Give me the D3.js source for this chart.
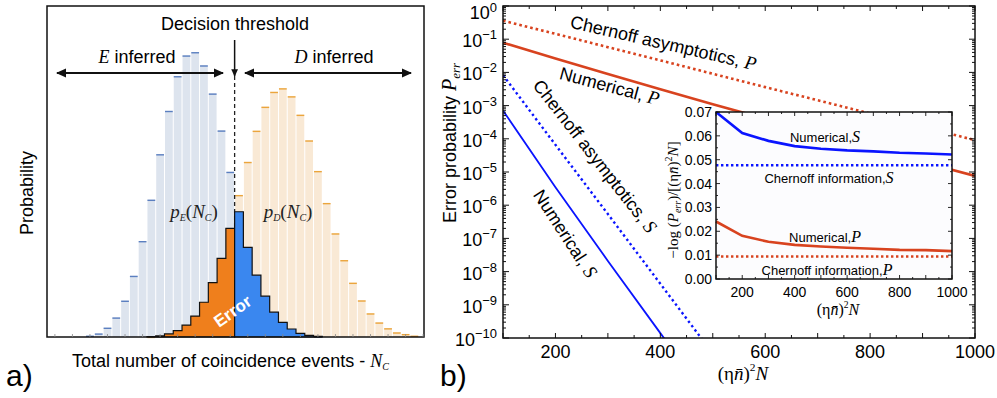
<!DOCTYPE html>
<html>
<head>
<meta charset="utf-8">
<script src="https://cdn.jsdelivr.net/npm/d3@7"></script>
<style>
  body { margin: 0; background: #fff; }
  svg { display: block; font-family: "Liberation Sans", Arial, sans-serif; }
  .serif { font-family: "Liberation Serif", "DejaVu Serif", serif; }
</style>
</head>
<body>
<svg id="chart" width="997" height="398"></svg>
<script>
// ---------- panel a) : histograms ----------
var nc = [5, 6, 7, 8, 9, 10, 11, 12, 13, 14, 15, 16, 17, 18, 19, 20, 21, 22, 23, 24,
          25, 26, 27, 28, 29, 30, 31, 32, 33, 34, 35, 36, 37, 38, 39, 40, 41, 42];
var pE = [0.0005, 0.0013, 0.0034, 0.0071, 0.0132, 0.0222, 0.0348, 0.0498, 0.0663, 0.0820,
          0.0946, 0.1021, 0.1033, 0.0985, 0.0883, 0.0749, 0.0599, 0.0454, 0.0325, 0.0224,
          0.0148, 0.0090, 0.0053, 0.0029, 0.0013, 0.0006, 0.0002, 0, 0, 0,
          0, 0, 0, 0, 0, 0, 0, 0];
var pD = [0, 0, 0, 0, 0, 0, 0, 0.0001, 0.0004, 0.0011,
          0.0023, 0.0043, 0.0076, 0.0126, 0.0197, 0.0285, 0.0394, 0.0515, 0.0635, 0.0748,
          0.0835, 0.0889, 0.0902, 0.0873, 0.0806, 0.0713, 0.0602, 0.0486, 0.0376, 0.0279,
          0.0197, 0.0133, 0.0086, 0.0053, 0.0032, 0.0017, 0.0011, 0.0005];
var threshold = 21.5;
var minorTicksA = [1, 3, 5, 7, 9, 11, 13, 15, 17, 19, 21, 23, 25, 27, 29, 31, 33, 35, 37, 39, 41, 43];

// ---------- panel b) : error probabilities ----------
var nMain = [100, 200, 300, 400, 500, 600, 700, 800, 900, 1000];
var numP = [7.85e-2, 2.63e-2, 8.9e-3, 3.1e-3, 1.1e-3, 4.0e-4, 1.45e-4, 5.4e-5, 2.0e-5, 7.6e-6];
var cherP = [3.6e-1, 1.45e-1, 5.75e-2, 2.3e-2, 9.1e-3, 3.6e-3, 1.45e-3, 5.75e-4, 2.3e-4, 9.1e-5];
var nS = [100, 200, 300, 400, 500];
var numS = [7.1e-4, 3.5e-6, 2.1e-8, 1.4e-10, 1e-12];
var cherS = [8.3e-3, 6.6e-5, 5.4e-7, 4.3e-9, 3.4e-11];
var mainXTicks = [200, 400, 600, 800, 1000];
var mainYExp = [0, -1, -2, -3, -4, -5, -6, -7, -8, -9, -10];

// inset
var insetN = [100, 200, 300, 400, 500, 600, 700, 800, 900, 1000];
var insetNumS = [0.0700, 0.0612, 0.0579, 0.0557, 0.0546, 0.0539, 0.0535, 0.0529, 0.0526, 0.0522];
var insetNumP = [0.0241, 0.0181, 0.0156, 0.0143, 0.0136, 0.0131, 0.0127, 0.0122, 0.0121, 0.0117];
var insetCherS = 0.0477;
var insetCherP = 0.0094;
var insetXTicks = [200, 400, 600, 800, 1000];
var insetYTicks = [0, 0.01, 0.02, 0.03, 0.04, 0.05, 0.06, 0.07];

var red = "#d8431f", blue = "#0a14ff";
var svg = d3.select("#chart");

///////////////// panel a
var xA = d3.scaleLinear().domain([0.1, 43.1]).range([47, 424]);
var yA = d3.scaleLinear().domain([0, 0.12]).range([337, 6]);
var gA = svg.append("g");

function drawBars(vals, fill, topColor) {
    var rows = nc.map(function (n, i) { return { n: n, v: vals[i] }; }).filter(function (d) { return d.v > 0; });
    gA.selectAll(null).data(rows).enter().append("rect")
        .attr("x", function (d) { return xA(d.n - 0.5) + 0.5; })
        .attr("width", function (d) { return xA(d.n + 0.5) - xA(d.n - 0.5) - 1; })
        .attr("y", function (d) { return yA(d.v); })
        .attr("height", function (d) { return yA(0) - yA(d.v); })
        .attr("fill", fill);
    gA.selectAll(null).data(rows).enter().append("line")
        .attr("x1", function (d) { return xA(d.n - 0.5) + 0.5; })
        .attr("x2", function (d) { return xA(d.n + 0.5) - 0.5; })
        .attr("y1", function (d) { return yA(d.v) + 0.7; })
        .attr("y2", function (d) { return yA(d.v) + 0.7; })
        .attr("stroke", topColor).attr("stroke-width", 1.4);
}
drawBars(pE, "#dde4ee", "#5b7fc0");
drawBars(pD, "#f9e9d5", "#eba53c");

// decision threshold dashed line
gA.append("line")
    .attr("x1", xA(threshold)).attr("x2", xA(threshold))
    .attr("y1", 76).attr("y2", yA(0))
    .attr("stroke", "#222").attr("stroke-width", 1.3).attr("stroke-dasharray", "4,3");

// error regions as step areas
function stepPoints(vals, test) {
    var pts = [];
    nc.forEach(function (n, i) {
        if (test(n) && vals[i] > 0) {
            pts.push([n - 0.5, vals[i]]);
            pts.push([n + 0.5, vals[i]]);
        }
    });
    return pts;
}
var area = d3.area()
    .x(function (d) { return xA(d[0]); })
    .y0(yA(0))
    .y1(function (d) { return yA(d[1]); });
var errD = stepPoints(pD, function (n) { return n < threshold; });
var errE = stepPoints(pE, function (n) { return n > threshold; });
gA.append("path").attr("d", area(errD)).attr("fill", "#ef7f1c").attr("stroke", "#111").attr("stroke-width", 1.2);
gA.append("path").attr("d", area(errE)).attr("fill", "#3a87ef").attr("stroke", "#111").attr("stroke-width", 1.2);

// frame
gA.append("rect").attr("x", 47).attr("y", 6).attr("width", 377).attr("height", 331)
    .attr("fill", "none").attr("stroke", "#111").attr("stroke-width", 1.5);
gA.selectAll(null).data(minorTicksA).enter().append("line")
    .attr("x1", function (d) { return xA(d); }).attr("x2", function (d) { return xA(d); })
    .attr("y1", yA(0)).attr("y2", yA(0) - 3)
    .attr("stroke", "#888").attr("stroke-width", 0.8);

// arrows
var defs = svg.append("defs");
defs.append("marker").attr("id", "ah").attr("viewBox", "0 0 10 10")
    .attr("refX", 9).attr("refY", 5).attr("markerWidth", 5).attr("markerHeight", 5)
    .attr("orient", "auto-start-reverse")
    .append("path").attr("d", "M0,0.5 L10,5 L0,9.5 Z").attr("fill", "#111");
gA.append("line").attr("x1", 57).attr("x2", 223).attr("y1", 73).attr("y2", 73)
    .attr("stroke", "#111").attr("stroke-width", 2)
    .attr("marker-start", "url(#ah)").attr("marker-end", "url(#ah)");
gA.append("line").attr("x1", 245).attr("x2", 411).attr("y1", 73).attr("y2", 73)
    .attr("stroke", "#111").attr("stroke-width", 2)
    .attr("marker-start", "url(#ah)").attr("marker-end", "url(#ah)");
gA.append("line").attr("x1", xA(threshold)).attr("x2", xA(threshold)).attr("y1", 40).attr("y2", 76)
    .attr("stroke", "#111").attr("stroke-width", 1.5).attr("marker-end", "url(#ah)");

// texts panel a
gA.append("text").attr("x", 235).attr("y", 30).attr("text-anchor", "middle")
    .attr("font-size", 18).text("Decision threshold");
var tE = gA.append("text").attr("x", 137).attr("y", 63).attr("text-anchor", "middle").attr("font-size", 18);
tE.append("tspan").attr("class", "serif").attr("font-style", "italic").text("E");
tE.append("tspan").text(" inferred");
var tD = gA.append("text").attr("x", 334).attr("y", 63).attr("text-anchor", "middle").attr("font-size", 18);
tD.append("tspan").attr("class", "serif").attr("font-style", "italic").text("D");
tD.append("tspan").text(" inferred");

function pLabel(x, sub) {
    var t = gA.append("text").attr("class", "serif").attr("x", x).attr("y", 218)
        .attr("text-anchor", "middle").attr("font-size", 19).attr("font-style", "italic").attr("fill", "#222");
    t.append("tspan").text("p");
    t.append("tspan").attr("font-size", 10).attr("dy", 3).text(sub);
    t.append("tspan").attr("dy", -3).attr("font-style", "normal").text("(");
    t.append("tspan").text("N");
    t.append("tspan").attr("font-size", 10).attr("dy", 3).text("C");
    t.append("tspan").attr("dy", -3).attr("font-style", "normal").text(")");
}
pLabel(194, "E");
pLabel(288, "D");

gA.append("text").attr("transform", "translate(236,316) rotate(-35)")
    .attr("text-anchor", "middle").attr("font-size", 17).attr("font-weight", "bold")
    .attr("fill", "#fff").text("Error");

gA.append("text").attr("transform", "translate(33,193) rotate(-90)")
    .attr("text-anchor", "middle").attr("font-size", 18).text("Probability");
var xl = gA.append("text").attr("x", 72).attr("y", 367).attr("font-size", 18);
xl.append("tspan").text("Total number of coincidence events - ");
xl.append("tspan").attr("class", "serif").attr("font-style", "italic").text("N");
xl.append("tspan").attr("class", "serif").attr("font-style", "italic").attr("font-size", 10).attr("dy", 3).text("C");
svg.append("text").attr("x", 6).attr("y", 386).attr("font-size", 30).text("a)");

///////////////// panel b
var xB = d3.scaleLinear().domain([100, 1000]).range([503, 975]);
var yB = d3.scaleLog().domain([1e-10, 1]).range([338, 6]);
var gB = svg.append("g");

defs.append("clipPath").attr("id", "clipB").append("rect")
    .attr("x", 503).attr("y", 6).attr("width", 472).attr("height", 332);

var lineB = d3.line().x(function (d) { return xB(d[0]); }).y(function (d) { return yB(d[1]); });
var plotB = gB.append("g").attr("clip-path", "url(#clipB)");
function addLine(xs, ys, color, w, dash) {
    var p = plotB.append("path").attr("d", lineB(xs.map(function (x, i) { return [x, ys[i]]; })))
        .attr("fill", "none").attr("stroke", color).attr("stroke-width", w);
    if (dash) p.attr("stroke-dasharray", dash);
}
addLine(nMain, cherP, red, 2.6, "2.6,3");
addLine(nMain, numP, red, 2.6);
addLine(nS, cherS, blue, 2.4, "2.4,3");
addLine(nS, numS, blue, 1.8);

// axes with inward ticks (all four sides)
var majorY = mainYExp.map(function (e) { return Math.pow(10, e); });
var minorY = [];
mainYExp.slice(1).forEach(function (e) { for (var k = 2; k <= 9; k++) minorY.push(k * Math.pow(10, e)); });
var minorX = [150, 250, 350, 450, 550, 650, 750, 850, 950];
var majorX = [100, 200, 300, 400, 500, 600, 700, 800, 900, 1000];
function ticksY(vals, len) {
    [503, 975].forEach(function (x0, s) {
        gB.selectAll(null).data(vals).enter().append("line")
            .attr("x1", x0).attr("x2", s === 0 ? x0 + len : x0 - len)
            .attr("y1", function (d) { return yB(d); }).attr("y2", function (d) { return yB(d); })
            .attr("stroke", "#111").attr("stroke-width", 1);
    });
}
function ticksX(vals, len) {
    [338, 6].forEach(function (y0, s) {
        gB.selectAll(null).data(vals).enter().append("line")
            .attr("y1", y0).attr("y2", s === 0 ? y0 - len : y0 + len)
            .attr("x1", function (d) { return xB(d); }).attr("x2", function (d) { return xB(d); })
            .attr("stroke", "#111").attr("stroke-width", 1);
    });
}
ticksY(majorY, 6); ticksY(minorY, 3);
ticksX(majorX, 5); ticksX(minorX, 3);
gB.append("rect").attr("x", 503).attr("y", 6).attr("width", 472).attr("height", 332)
    .attr("fill", "none").attr("stroke", "#111").attr("stroke-width", 1.5);

// y tick labels (top one pushed down so its exponent stays inside the page)
mainYExp.forEach(function (e) {
    var t = gB.append("text").attr("x", 497).attr("y", Math.max(yB(Math.pow(10, e)) + 8, 19))
        .attr("text-anchor", "end").attr("font-size", 18);
    t.append("tspan").text("10");
    t.append("tspan").attr("font-size", 13).attr("dy", e === 0 ? -7 : -8).text(e === 0 ? "0" : "\u2212" + (-e));
});
gB.selectAll(null).data(mainXTicks).enter().append("text")
    .attr("x", function (d) { return xB(d); }).attr("y", 358)
    .attr("text-anchor", "middle").attr("font-size", 18).text(function (d) { return d; });

// axis titles
var yl = gB.append("text").attr("transform", "translate(456,143) rotate(-90)")
    .attr("text-anchor", "middle").attr("font-size", 18);
yl.append("tspan").text("Error probability ");
yl.append("tspan").attr("class", "serif").attr("font-style", "italic").attr("font-size", 20).text("P");
yl.append("tspan").attr("class", "serif").attr("font-style", "italic").attr("font-size", 13).attr("dy", 4).text("err");

function etaLabel(g, x, y, size) {
    var t = g.append("text").attr("class", "serif").attr("x", x).attr("y", y)
        .attr("text-anchor", "middle").attr("font-size", size);
    t.append("tspan").text("(\u03b7");
    t.append("tspan").attr("font-style", "italic").text("n\u0304");
    t.append("tspan").text(")");
    t.append("tspan").attr("font-size", size * 0.6).attr("dy", -size * 0.45).text("2");
    t.append("tspan").attr("font-style", "italic").attr("dy", size * 0.45).text("N");
    return t;
}
etaLabel(gB, 743, 380, 19);
svg.append("text").attr("x", 440).attr("y", 386).attr("font-size", 30).text("b)");

// rotated line labels
function lineLabel(x, y, angle, txt, sym) {
    var t = gB.append("text").attr("transform", "translate(" + x + "," + y + ") rotate(" + angle + ")")
        .attr("text-anchor", "middle").attr("font-size", 18);
    t.append("tspan").text(txt);
    t.append("tspan").attr("class", "serif").attr("font-style", "italic").attr("font-size", 19).text(sym);
}
lineLabel(662, 49, 13, "Chernoff asymptotics, ", "P");
lineLabel(608, 92, 15, "Numerical, ", "P");
lineLabel(590, 160, 52, "Chernoff asymptotics, ", "S");
lineLabel(560, 237, 57, "Numerical, ", "S");

///////////////// inset
var xI = d3.scaleLinear().domain([100, 1000]).range([716, 952]);
var yI = d3.scaleLinear().domain([0, 0.07]).range([279, 112]);
var gI = svg.append("g");
gI.append("rect").attr("x", 716).attr("y", 112).attr("width", 236).attr("height", 167)
    .attr("fill", "#fcfcfe");

var lineI = d3.line().x(function (d) { return xI(d[0]); }).y(function (d) { return yI(d[1]); });
gI.append("path").attr("d", lineI(insetN.map(function (n, i) { return [n, insetNumS[i]]; })))
    .attr("fill", "none").attr("stroke", blue).attr("stroke-width", 2.6);
gI.append("path").attr("d", lineI(insetN.map(function (n, i) { return [n, insetNumP[i]]; })))
    .attr("fill", "none").attr("stroke", red).attr("stroke-width", 2.6);
gI.append("line").attr("x1", xI(100)).attr("x2", xI(1000)).attr("y1", yI(insetCherS)).attr("y2", yI(insetCherS))
    .attr("stroke", blue).attr("stroke-width", 2.4).attr("stroke-dasharray", "2.4,2.6");
gI.append("line").attr("x1", xI(100)).attr("x2", xI(1000)).attr("y1", yI(insetCherP)).attr("y2", yI(insetCherP))
    .attr("stroke", red).attr("stroke-width", 2.4).attr("stroke-dasharray", "2.4,2.6");

// inset ticks
var insetMinorY = [0.005, 0.015, 0.025, 0.035, 0.045, 0.055, 0.065];
[[insetYTicks, 4], [insetMinorY, 2]].forEach(function (p) {
    [716, 952].forEach(function (x0, s) {
        gI.selectAll(null).data(p[0]).enter().append("line")
            .attr("x1", x0).attr("x2", s === 0 ? x0 + p[1] : x0 - p[1])
            .attr("y1", function (d) { return yI(d); }).attr("y2", function (d) { return yI(d); })
            .attr("stroke", "#111").attr("stroke-width", 0.9);
    });
});
[[majorX, 4], [minorX, 2]].forEach(function (p) {
    [279, 112].forEach(function (y0, s) {
        gI.selectAll(null).data(p[0]).enter().append("line")
            .attr("y1", y0).attr("y2", s === 0 ? y0 - p[1] : y0 + p[1])
            .attr("x1", function (d) { return xI(d); }).attr("x2", function (d) { return xI(d); })
            .attr("stroke", "#111").attr("stroke-width", 0.9);
    });
});
gI.append("rect").attr("x", 716).attr("y", 112).attr("width", 236).attr("height", 167)
    .attr("fill", "none").attr("stroke", "#111").attr("stroke-width", 1.5);

gI.selectAll(null).data(insetYTicks).enter().append("text")
    .attr("x", 712).attr("y", function (d) { return yI(d) + 5; })
    .attr("text-anchor", "end").attr("font-size", 14).text(function (d) { return d.toFixed(2); });
gI.selectAll(null).data(insetXTicks).enter().append("text")
    .attr("x", function (d) { return xI(d); }).attr("y", 297)
    .attr("text-anchor", "middle").attr("font-size", 14).text(function (d) { return d; });
etaLabel(gI, 838, 315, 16);

// inset y title
var iy = gI.append("text").attr("class", "serif").attr("transform", "translate(678,200) rotate(-90)")
    .attr("text-anchor", "middle").attr("font-size", 15);
iy.append("tspan").text("\u2212log (");
iy.append("tspan").attr("font-style", "italic").text("P");
iy.append("tspan").attr("font-style", "italic").attr("font-size", 10).attr("dy", 3).text("err");
iy.append("tspan").attr("dy", -3).text(")/[(\u03b7");
iy.append("tspan").attr("font-style", "italic").text("n\u0304");
iy.append("tspan").text(")");
iy.append("tspan").attr("font-size", 10).attr("dy", -6).text("2");
iy.append("tspan").attr("font-style", "italic").attr("dy", 6).text("N");
iy.append("tspan").text("]");

function insetLabel(x, y, txt, sym) {
    var t = gI.append("text").attr("x", x).attr("y", y).attr("text-anchor", "middle").attr("font-size", 13);
    t.append("tspan").text(txt);
    t.append("tspan").attr("class", "serif").attr("font-style", "italic").attr("font-size", 16).text(sym);
}
insetLabel(825, 142, "Numerical,", "S");
insetLabel(829, 183, "Chernoff information,", "S");
insetLabel(825, 242, "Numerical,", "P");
insetLabel(827, 275, "Chernoff information,", "P");
</script>
</body>
</html>
